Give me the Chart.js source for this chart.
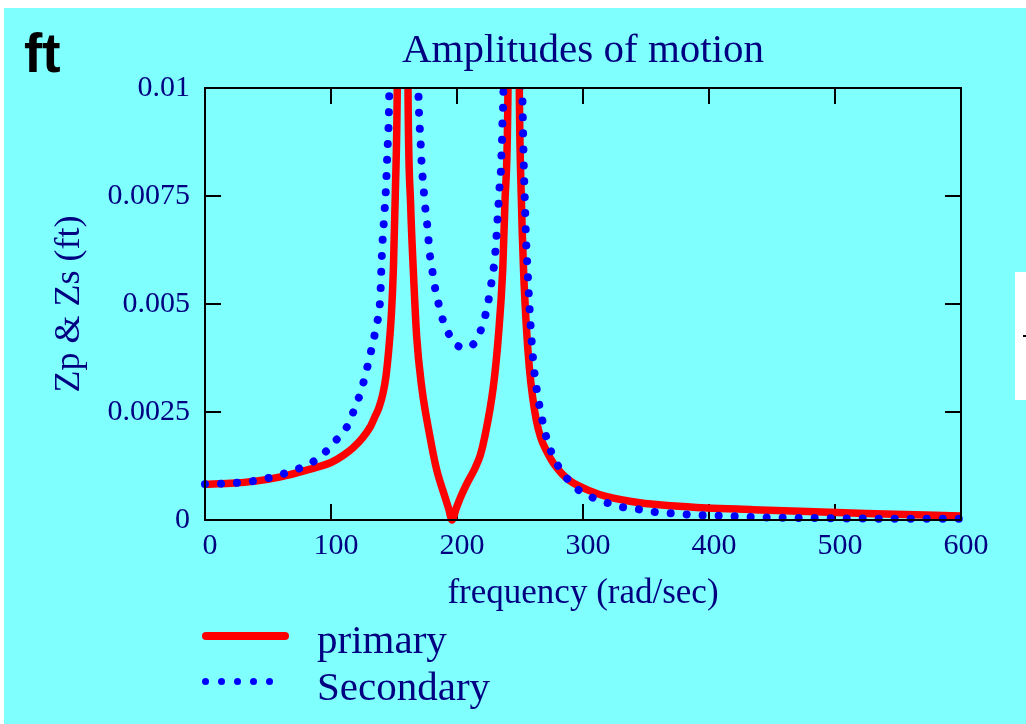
<!DOCTYPE html>
<html>
<head>
<meta charset="utf-8">
<title>Amplitudes of motion</title>
<script src="https://cdn.jsdelivr.net/npm/chart.js@4.4.0/dist/chart.umd.min.js"></script>
<style>
  html, body { margin: 0; padding: 0; width: 1026px; height: 724px; overflow: hidden; background: #fff; }
  #panel { position: absolute; left: 4px; top: 8px; width: 1022px; height: 716px; background: #80ffff; }
  #chart { position: absolute; left: 0; top: 0; }
  .ft { position: absolute; left: 24px; top: 26px; font: bold 55px/55px "Liberation Sans", Arial, sans-serif; color: #000; }
  .legend-text { position: absolute; left: 317px; font: 41px/41px "Liberation Serif", "Times New Roman", serif; color: #000080; white-space: nowrap; }
  .swatch-line { position: absolute; left: 202px; top: 632px; width: 87px; height: 8px; border-radius: 4px; background: #ff0000; }
  .dot { position: absolute; width: 7px; height: 7px; border-radius: 50%; background: #0000ff; top: 678px; }
  #sidebox { position: absolute; left: 1015px; top: 272px; width: 11px; height: 128px; background: #fff; }
  #sidebox span { position: absolute; left: 8px; top: 63px; width: 3px; height: 2px; background: #000; }
</style>
</head>
<body>
<div id="panel"></div>
<canvas id="chart" width="1026" height="724"></canvas>
<div class="ft">ft</div>
<div class="swatch-line"></div>
<div class="legend-text" style="top:619px">primary</div>
<div id="dots"></div>
<div class="legend-text" style="top:666px">Secondary</div>
<div id="sidebox"><span></span></div>

<script>
// frequency (rad/sec) and amplitude (ft)
const primaryFreq = [0, 20, 40, 60, 80, 100, 110, 117.5, 125, 131, 135, 138, 141, 143.5, 146, 148, 149.5, 151, 152.6,
  157, 161.2, 163.2, 165.3, 168, 172, 178.6, 183.9, 190.5, 193.5, 196, 199.5, 203, 208, 214, 218.5, 222, 228.8, 232.8,
  236.3, 238, 240.4, 245, 249.5, 251, 252.8, 255, 257.5, 260, 263, 266.5, 271, 276.4, 283, 290, 305, 319,
  345, 370, 398, 435, 472, 540, 600];
const primaryAmp = [0.00083, 0.00085, 0.0009, 0.001, 0.00115, 0.00133, 0.0015, 0.00167, 0.0019, 0.00215, 0.0024,
  0.0026, 0.0029, 0.0033, 0.004, 0.0048, 0.0058, 0.0075, 0.01,
  0.03, 0.00965, 0.0073, 0.0058, 0.00424, 0.00308, 0.00192, 0.00116, 0.00053, 0.00025, 0, 0.00028, 0.00054,
  0.00085, 0.00118, 0.0015, 0.00192, 0.00308, 0.00424,
  0.0058, 0.0073, 0.0098, 0.03, 0.0098, 0.0075, 0.0058, 0.0045, 0.0035, 0.00285, 0.0023, 0.0019, 0.0016,
  0.00132, 0.00108, 0.0009, 0.00068, 0.00054,
  0.0004, 0.00033, 0.00028, 0.00024, 0.0002, 0.00014, 0.00009];

const secondaryFreq = [0, 20, 38, 63.5, 87, 96.5, 105.6, 113.5, 119, 124, 128.5, 132.5, 136, 139, 140.5, 142.1,
  143.7, 144.7, 145.8, 146.3, 157, 169.3, 170.1, 170.9, 172.2, 173.3, 174.3, 175.7, 177, 178, 179.9, 181.7,
  184.4, 187.3, 191.8, 198.4, 204, 209.5, 217.2, 221.7, 224.6, 226.7, 228.8, 230.2, 231.2, 232, 232.8,
  233.6, 234.7, 235.2, 235.7, 236, 236.5, 236.8, 244, 251.9, 252.6, 253.2, 254, 254.8, 256.1, 257.4, 259,
  261.1, 264.8, 267.2, 270.1, 273.8, 279.1, 286.3, 295, 306, 319, 331, 343.6, 356, 369, 382, 394.6, 407,
  446, 500, 550, 600];
const secondaryAmp = [0.00083, 0.00085, 0.0009, 0.00108, 0.00137, 0.0016, 0.0019, 0.0022, 0.0026, 0.003,
  0.0035, 0.004, 0.0045, 0.0051, 0.00623, 0.00698,
  0.00773, 0.00849, 0.00924, 0.01, 0.03, 0.00999, 0.00926, 0.00887, 0.00812, 0.00775, 0.00737, 0.007,
  0.00664, 0.00625, 0.00588, 0.00551,
  0.00513, 0.00477, 0.00441, 0.00409, 0.004, 0.004, 0.00428, 0.00465, 0.00502, 0.00539, 0.00576, 0.00613,
  0.0065, 0.00688, 0.00725,
  0.00764, 0.00801, 0.00839, 0.00876, 0.00914, 0.00951, 0.00988, 0.03, 0.00988, 0.00876, 0.008, 0.00725,
  0.0065, 0.00574, 0.005, 0.00424,
  0.0035, 0.00275, 0.00238, 0.002, 0.00165, 0.00131, 0.001, 0.00073, 0.00054, 0.0004, 0.0003, 0.00025,
  0.00019, 0.00016, 0.00013, 0.00011, 0.0001,
  0.00006, 0.00004, 0.00003, 0.00003];

const xTicks = [0, 100, 200, 300, 400, 500, 600];
const yTicks = [0, 0.0025, 0.005, 0.0075, 0.01];
const yTickLabels = ['0', '0.0025', '0.005', '0.0075', '0.01'];

const NAVY = '#000080';
const SERIF = '"Liberation Serif", "Times New Roman", serif';

// legend dots for the dotted series
const dotsEl = document.getElementById('dots');
[205, 221, 237, 253, 269].forEach(cx => {
  const d = document.createElement('div');
  d.className = 'dot';
  d.style.left = (cx - 3.5) + 'px';
  dotsEl.appendChild(d);
});

// inward tick marks on all four sides plus the box frame
const frameTicks = {
  id: 'frameTicks',
  beforeDatasetsDraw(chart) {
    const { ctx, chartArea: a, scales: { x, y } } = chart;
    const len = 16;
    ctx.save();
    ctx.strokeStyle = '#000';
    ctx.lineWidth = 2;
    ctx.beginPath();
    xTicks.forEach(v => {
      const px = x.getPixelForValue(v);
      ctx.moveTo(px, a.bottom); ctx.lineTo(px, a.bottom - len);
      ctx.moveTo(px, a.top); ctx.lineTo(px, a.top + len);
    });
    yTicks.forEach(v => {
      const py = y.getPixelForValue(v);
      ctx.moveTo(a.left, py); ctx.lineTo(a.left + len, py);
      ctx.moveTo(a.right, py); ctx.lineTo(a.right - len, py);
    });
    ctx.stroke();
    ctx.restore();
  },
  afterDatasetsDraw(chart) {
    const { ctx, chartArea: a } = chart;
    ctx.save();
    ctx.strokeStyle = '#000';
    ctx.lineWidth = 2;
    ctx.strokeRect(a.left, a.top, a.right - a.left, a.bottom - a.top);
    ctx.restore();
  }
};

new Chart(document.getElementById('chart'), {
  type: 'line',
  data: {
    datasets: [
      {
        label: 'primary',
        data: primaryFreq.map((f, i) => ({ x: f, y: primaryAmp[i] })),
        borderColor: '#ff0000',
        borderWidth: 7.5,
        pointRadius: 0,
        cubicInterpolationMode: 'monotone',
        clip: { left: 0, top: 0, right: 0, bottom: 6 },
        order: 2
      },
      {
        label: 'Secondary',
        data: secondaryFreq.map((f, i) => ({ x: f, y: secondaryAmp[i] })),
        borderColor: '#0000ff',
        borderWidth: 8,
        borderDash: [0.01, 16],
        borderCapStyle: 'round',
        pointRadius: 0,
        cubicInterpolationMode: 'monotone',
        clip: { left: 4, top: 0, right: 4, bottom: 6 },
        order: 1
      }
    ]
  },
  options: {
    responsive: false,
    devicePixelRatio: 1,
    animation: false,
    layout: { padding: { left: 0, top: 0, right: 65, bottom: 0 } },
    plugins: {
      legend: { display: false },
      tooltip: { enabled: false },
      title: {
        display: true,
        text: 'Amplitudes of motion',
        color: NAVY,
        fullSize: false,
        font: { family: SERIF, size: 41, weight: 'normal', lineHeight: 1.2 },
        padding: { top: 27, bottom: 11.8 }
      }
    },
    scales: {
      x: {
        type: 'linear',
        min: 0,
        max: 600,
        grid: { display: false, drawTicks: false },
        border: { display: false },
        ticks: {
          stepSize: 100,
          color: NAVY,
          font: { family: SERIF, size: 30 },
          padding: 8,
          labelOffset: 5,
          maxRotation: 0
        },
        title: {
          display: true,
          text: 'frequency (rad/sec)',
          color: NAVY,
          font: { family: SERIF, size: 35 },
          padding: { top: 0, bottom: 109 }
        },
        afterFit: s => { s.height = 204; }
      },
      y: {
        min: 0,
        max: 0.01,
        grid: { display: false, drawTicks: false },
        border: { display: false },
        afterBuildTicks: s => { s.ticks = yTicks.map(v => ({ value: v })); },
        ticks: {
          color: NAVY,
          font: { family: SERIF, size: 30 },
          padding: 15,
          callback: (v, i) => yTickLabels[i]
        },
        title: {
          display: true,
          text: 'Zp & Zs (ft)',
          color: NAVY,
          font: { family: SERIF, size: 36 },
          padding: { top: 48, bottom: 0 }
        },
        afterFit: s => { s.width = 205; }
      }
    }
  },
  plugins: [frameTicks]
});
</script>
</body>
</html>
